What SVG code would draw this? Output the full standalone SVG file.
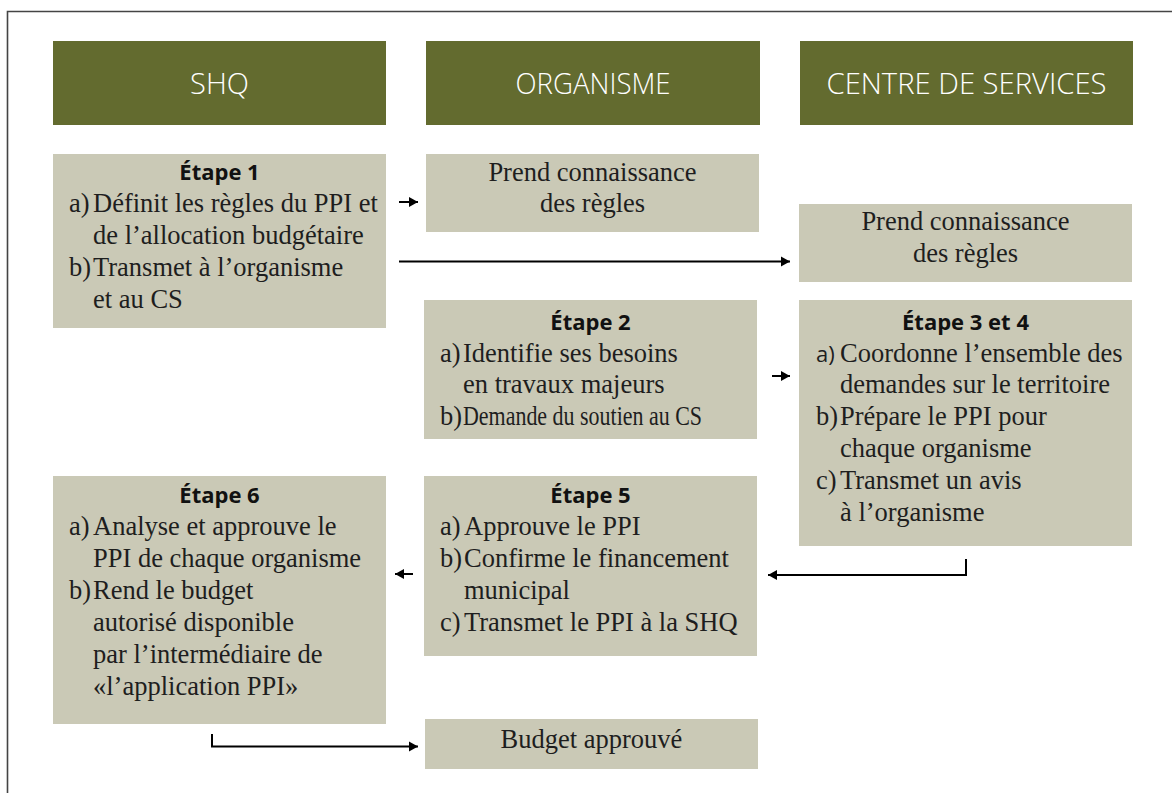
<svg xmlns="http://www.w3.org/2000/svg" width="1172" height="793" viewBox="0 0 1172 793">
<defs>
<marker id="ah" markerUnits="userSpaceOnUse" markerWidth="10" markerHeight="11" refX="9" refY="5.5" orient="auto">
<path d="M0,0.5 L9,5.5 L0,10.5 Z" fill="#000"/>
</marker>
<style>
.hdr{fill:#636b2f}
.box{fill:#cac9b6}
.ht{font-family:"Open Sans","Liberation Sans",sans-serif;font-weight:300;font-size:29px;fill:#fff;text-anchor:middle}
.tt{font-family:"Open Sans","Liberation Sans",sans-serif;font-weight:700;font-size:22px;fill:#111;text-anchor:middle}
.bt{font-family:"Liberation Serif","DejaVu Serif",serif;font-size:26.5px;fill:#1e1e1e}
.c{text-anchor:middle}
.cn{fill:none;stroke:#000;stroke-width:2}
</style>
</defs>
<rect width="1172" height="793" fill="#fff"/>
<path d="M7.5,793 V11.5 H1172" fill="none" stroke="#444" stroke-width="1.6"/>

<g id="hdr-shq"><rect class="hdr" x="53" y="41" width="333" height="84"/><text class="ht" x="219.5" y="94">SHQ</text></g>
<g id="hdr-org"><rect class="hdr" x="426" y="41" width="334" height="84"/><text class="ht" x="593" y="94" textLength="155" lengthAdjust="spacingAndGlyphs">ORGANISME</text></g>
<g id="hdr-cs"><rect class="hdr" x="800" y="41" width="333" height="84"/><text class="ht" x="966.5" y="94" textLength="280" lengthAdjust="spacingAndGlyphs">CENTRE DE SERVICES</text></g>

<g id="etape1"><rect class="box" x="53" y="154" width="333" height="174"/>
<text class="tt" x="219.5" y="180">Étape 1</text>
<text class="bt" x="69" y="212">a)</text><text class="bt" x="93" y="212">Définit les règles du PPI et</text>
<text class="bt" x="93" y="244">de l’allocation budgétaire</text>
<text class="bt" x="69" y="276">b)</text><text class="bt" x="93" y="276">Transmet à l’organisme</text>
<text class="bt" x="93" y="308">et au CS</text>
</g>

<g id="org-prend"><rect class="box" x="426" y="154" width="333" height="78"/>
<text class="bt c" x="592.5" y="181">Prend connaissance</text>
<text class="bt c" x="592.5" y="212">des règles</text>
</g>

<g id="cs-prend"><rect class="box" x="799" y="204" width="333" height="78"/>
<text class="bt c" x="965.5" y="230">Prend connaissance</text>
<text class="bt c" x="965.5" y="262">des règles</text>
</g>

<g id="etape2"><rect class="box" x="424" y="300" width="333" height="139"/>
<text class="tt" x="590.5" y="330">Étape 2</text>
<text class="bt" x="440" y="362">a)</text><text class="bt" x="463" y="362">Identifie ses besoins</text>
<text class="bt" x="463" y="393">en travaux majeurs</text>
<text class="bt" x="440" y="425">b)</text><text class="bt" x="463" y="425" textLength="239" lengthAdjust="spacingAndGlyphs">Demande du soutien au CS</text>
</g>

<g id="etape34"><rect class="box" x="799" y="300" width="333" height="246"/>
<text class="tt" x="965.5" y="330">Étape 3 et 4</text>
<text class="bt" x="816" y="362" style="font-family:'Open Sans','Liberation Sans',sans-serif;font-size:22px">a)</text><text class="bt" x="840" y="362">Coordonne l’ensemble des</text>
<text class="bt" x="840" y="393">demandes sur le territoire</text>
<text class="bt" x="816" y="425">b)</text><text class="bt" x="840" y="425">Prépare le PPI pour</text>
<text class="bt" x="840" y="457">chaque organisme</text>
<text class="bt" x="816" y="489">c)</text><text class="bt" x="840" y="489">Transmet un avis</text>
<text class="bt" x="840" y="521">à l’organisme</text>
</g>

<g id="etape5"><rect class="box" x="424" y="476" width="333" height="180"/>
<text class="tt" x="590.5" y="503">Étape 5</text>
<text class="bt" x="440" y="535">a)</text><text class="bt" x="464" y="535">Approuve le PPI</text>
<text class="bt" x="440" y="567">b)</text><text class="bt" x="464" y="567">Confirme le financement</text>
<text class="bt" x="464" y="599">municipal</text>
<text class="bt" x="440" y="631">c)</text><text class="bt" x="464" y="631">Transmet le PPI à la SHQ</text>
</g>

<g id="etape6"><rect class="box" x="53" y="476" width="333" height="248"/>
<text class="tt" x="219.5" y="503">Étape 6</text>
<text class="bt" x="69" y="535">a)</text><text class="bt" x="93" y="535">Analyse et approuve le</text>
<text class="bt" x="93" y="567">PPI de chaque organisme</text>
<text class="bt" x="69" y="599">b)</text><text class="bt" x="93" y="599">Rend le budget</text>
<text class="bt" x="93" y="631">autorisé disponible</text>
<text class="bt" x="93" y="663">par l’intermédiaire de</text>
<text class="bt" x="93" y="695">«l’application PPI»</text>
</g>

<g id="budget"><rect class="box" x="425" y="719" width="333" height="50"/>
<text class="bt c" x="591.5" y="748">Budget approuvé</text>
</g>

<g id="connectors">
<path class="cn" d="M399,202 H418" marker-end="url(#ah)"/>
<path class="cn" d="M399,261.5 H790" marker-end="url(#ah)"/>
<path class="cn" d="M772,376 H790" marker-end="url(#ah)"/>
<path class="cn" d="M966,559 V575 H768" marker-end="url(#ah)"/>
<path class="cn" d="M413,574 H395" marker-end="url(#ah)"/>
<path class="cn" d="M212,734 V746.5 H418" marker-end="url(#ah)"/>
</g>
</svg>
